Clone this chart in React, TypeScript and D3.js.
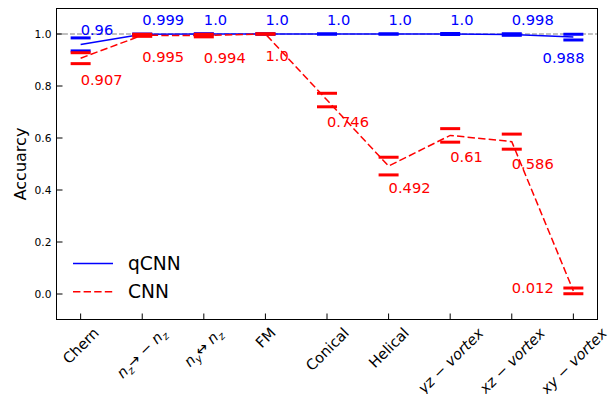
import React, { useEffect, useRef } from 'react';
import * as d3 from 'd3';

// Tick labels for each magnetic texture; segments carry italic / subscript flags
type Seg = { t: string; i?: boolean; sub?: boolean };
const tickLabels: Seg[][] = [
  [{ t: 'Chern' }],
  [{ t: 'n', i: true }, { t: 'z', i: true, sub: true }, { t: '\u2192 \u2212 ' }, { t: 'n', i: true }, { t: 'z', i: true, sub: true }],
  [{ t: 'n', i: true }, { t: 'y', i: true, sub: true }, { t: '\u2194 ' }, { t: 'n', i: true }, { t: 'z', i: true, sub: true }],
  [{ t: 'FM' }],
  [{ t: 'Conical' }],
  [{ t: 'Helical' }],
  [{ t: 'yz', i: true }, { t: ' \u2212 ' }, { t: 'vortex', i: true }],
  [{ t: 'xz', i: true }, { t: ' \u2212 ' }, { t: 'vortex', i: true }],
  [{ t: 'xy', i: true }, { t: ' \u2212 ' }, { t: 'vortex', i: true }],
];

const qcnnAcc = [0.96, 0.999, 1.0, 1.0, 1.0, 1.0, 1.0, 0.998, 0.988];
const qcnnErr = [0.025, 0.001, 0.001, 0.0005, 0.0005, 0.0005, 0.002, 0.003, 0.011];
const cnnAcc = [0.907, 0.995, 0.994, 1.0, 0.746, 0.492, 0.61, 0.586, 0.012];
const cnnErr = [0.021, 0.004, 0.005, 0.001, 0.026, 0.034, 0.026, 0.029, 0.011];
const yTicks = [0, 0.2, 0.4, 0.6, 0.8, 1.0];

const W = 612;
const H = 394;
const FONT = "'DejaVu Sans', sans-serif";
const BLUE = '#0000ff';
const RED = '#ff0000';

const fmt = (v: number) => (Number.isInteger(v) ? v.toFixed(1) : String(v));

export default function App() {
  const ref = useRef<SVGSVGElement>(null);

  useEffect(() => {
    const svg = d3.select(ref.current);
    svg.selectAll('*').remove();

    const left = 56, right = 598, top = 8, bottom = 320;
    const x = d3.scaleLinear().domain([-0.4, 8.4]).range([left, right]);
    const y = d3.scaleLinear().domain([-0.1, 1.1]).range([bottom, top]);
    const idx = d3.range(tickLabels.length);
    const last = idx.length - 1;

    // reference line at perfect accuracy
    svg.append('line')
      .attr('x1', left).attr('x2', right)
      .attr('y1', y(1)).attr('y2', y(1))
      .attr('stroke', '#808080').attr('stroke-width', 1)
      .attr('stroke-dasharray', '4.9 2.1');

    // qCNN series
    svg.append('path')
      .attr('d', d3.line<number>().x((i) => x(i)).y((i) => y(qcnnAcc[i]))(idx) as string)
      .attr('fill', 'none').attr('stroke', BLUE).attr('stroke-width', 1.5);

    const caps = (acc: number[], err: number[], color: string) => {
      const g = svg.append('g');
      idx.forEach((i) => {
        [acc[i] + err[i], acc[i] - err[i]].forEach((v) => {
          g.append('line')
            .attr('x1', x(i) - 10).attr('x2', x(i) + 10)
            .attr('y1', y(v)).attr('y2', y(v))
            .attr('stroke', color).attr('stroke-width', 3);
        });
      });
    };
    caps(qcnnAcc, qcnnErr, BLUE);

    // CNN series
    svg.append('path')
      .attr('d', d3.line<number>().x((i) => x(i)).y((i) => y(cnnAcc[i]))(idx) as string)
      .attr('fill', 'none').attr('stroke', RED).attr('stroke-width', 1.5)
      .attr('stroke-dasharray', '7.4 3.2');
    caps(cnnAcc, cnnErr, RED);

    // value annotations
    const ann = svg.append('g').attr('font-family', FONT).attr('font-size', 14.67);
    idx.forEach((i) => {
      const qx = i === last ? x(i - 0.5) : x(i);
      const qy = i === last ? y(qcnnAcc[i] - 0.1) : y(qcnnAcc[i] + 0.035);
      ann.append('text').attr('x', qx).attr('y', qy).attr('fill', BLUE).text(fmt(qcnnAcc[i]));
      const cx = i === last ? x(i - 1) : x(i);
      const cy = i === last ? y(cnnAcc[i] - 0.008) : y(cnnAcc[i] - 0.104);
      ann.append('text').attr('x', cx).attr('y', cy).attr('fill', RED).text(fmt(cnnAcc[i]));
    });

    // frame
    svg.append('rect')
      .attr('x', left + 0.5).attr('y', top + 0.5)
      .attr('width', right - left - 1).attr('height', bottom - top - 1)
      .attr('fill', 'none').attr('stroke', '#000').attr('stroke-width', 1);

    // y axis ticks (inward) and labels
    const yax = svg.append('g').attr('font-family', FONT).attr('font-size', 10.67);
    yTicks.forEach((t) => {
      yax.append('line')
        .attr('x1', left).attr('x2', left + 6.5)
        .attr('y1', y(t)).attr('y2', y(t))
        .attr('stroke', '#000').attr('stroke-width', 1);
      yax.append('text')
        .attr('x', left - 4.5).attr('y', y(t))
        .attr('text-anchor', 'end').attr('dominant-baseline', 'central')
        .text(t.toFixed(1));
    });

    // x axis ticks (inward) and rotated labels
    const xax = svg.append('g').attr('font-family', FONT).attr('font-size', 14.67);
    idx.forEach((i) => {
      xax.append('line')
        .attr('x1', x(i)).attr('x2', x(i))
        .attr('y1', bottom).attr('y2', bottom - 6.5)
        .attr('stroke', '#000').attr('stroke-width', 1);
      const g = xax.append('g');
      const txt = g.append('text');
      let shifted = false;
      tickLabels[i].forEach((s) => {
        const ts = txt.append('tspan').text(s.t);
        if (s.i) ts.attr('font-style', 'italic');
        if (s.sub) {
          ts.attr('font-size', 10.3);
          if (!shifted) { ts.attr('dy', 3.5); shifted = true; }
        } else if (shifted) {
          ts.attr('dy', -3.5); shifted = false;
        }
      });
      const node = txt.node() as SVGTextElement;
      const bb = node.getBBox();
      txt.attr('transform', `translate(${-bb.x - bb.width / 2},${-bb.y - bb.height / 2})`);
      const half = (bb.width + bb.height) / (2 * Math.SQRT2);
      g.attr('transform', `translate(${x(i)},${bottom + 4 + half}) rotate(-45)`);
    });

    // y axis title
    svg.append('text')
      .attr('transform', `translate(26,${(top + bottom) / 2}) rotate(-90)`)
      .attr('text-anchor', 'middle')
      .attr('font-family', FONT).attr('font-size', 16)
      .text('Accuarcy');

    // legend
    const lg = svg.append('g').attr('font-family', FONT).attr('font-size', 18.67);
    lg.append('line').attr('x1', 73).attr('x2', 113).attr('y1', 263.5).attr('y2', 263.5)
      .attr('stroke', BLUE).attr('stroke-width', 1.5);
    lg.append('text').attr('x', 128).attr('y', 269.8).text('qCNN');
    lg.append('line').attr('x1', 73).attr('x2', 113).attr('y1', 291.7).attr('y2', 291.7)
      .attr('stroke', RED).attr('stroke-width', 1.5).attr('stroke-dasharray', '7.4 3.2');
    lg.append('text').attr('x', 128).attr('y', 298.2).text('CNN');
  }, []);

  return (
    <svg
      ref={ref}
      width={W}
      height={H}
      style={{ position: 'absolute', left: 0, top: 0, background: '#fff' }}
    />
  );
}
